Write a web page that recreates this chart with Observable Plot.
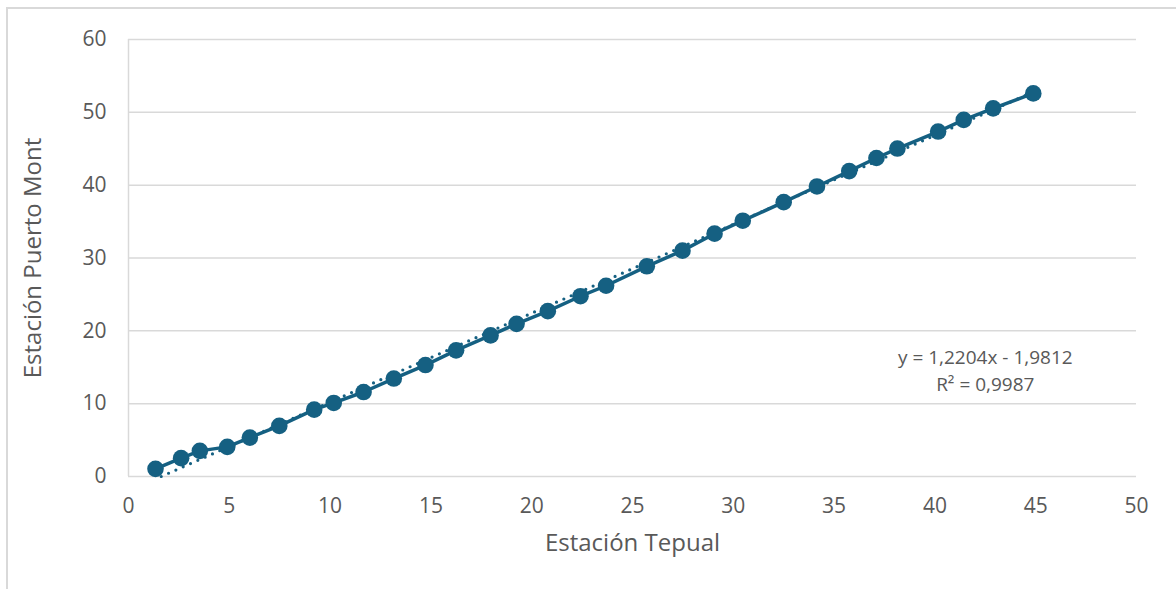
<!DOCTYPE html>
<html>
<head>
<meta charset="utf-8">
<script src="https://cdn.jsdelivr.net/npm/d3@7"></script>
<script src="https://cdn.jsdelivr.net/npm/@observablehq/plot@0.6"></script>
<style>
  html, body { margin: 0; padding: 0; background: #fff; }
  #wrap { position: relative; width: 1176px; height: 589px; overflow: hidden; }
  #border { position: absolute; left: 6px; top: 7px; width: 1250px; height: 650px; border: 2px solid #d9d9d9; box-sizing: border-box; pointer-events: none; }
  #chart { position: absolute; left: 0; top: 0; }
</style>
</head>
<body>
<div id="wrap"><div id="chart"></div><div id="border"></div></div>
<script>
// Data
const tepual = [1.34, 2.61, 3.54, 4.90, 6.02, 7.48, 9.21, 10.18, 11.66, 13.16, 14.73, 16.25, 17.96, 19.25, 20.80, 22.42, 23.69, 25.71, 27.48, 29.07, 30.47, 32.50, 34.15, 35.75, 37.10, 38.14, 40.16, 41.43, 42.89, 44.88];
const puertoMont = [1.05, 2.52, 3.52, 4.07, 5.34, 6.95, 9.18, 10.10, 11.60, 13.45, 15.30, 17.32, 19.37, 20.96, 22.70, 24.75, 26.19, 28.86, 31.01, 33.34, 35.12, 37.67, 39.82, 41.93, 43.73, 45.03, 47.36, 48.96, 50.55, 52.60];
const xTicks = [0, 5, 10, 15, 20, 25, 30, 35, 40, 45, 50];
const yTicks = [0, 10, 20, 30, 40, 50, 60];
const trendSlope = 1.2204;
const trendIntercept = -1.9812;
const trendLabel = ["y = 1,2204x - 1,9812", "R² = 0,9987"];
const xTitle = "Estación Tepual";
const yTitle = "Estación Puerto Mont";

const color = "#156082";
const textColor = "#595959";
const font = "'Open Sans', 'Liberation Sans', sans-serif";

const pts = tepual.map((x, i) => ({x, y: puertoMont[i]}));
const xMin = d3.min(tepual), xMax = d3.max(tepual);
const xStart = Math.max(xMin, -trendIntercept / trendSlope);
const trend = [xStart, xMax].map(x => ({x, y: trendSlope * x + trendIntercept}));

const chart = Plot.plot({
  width: 1176,
  height: 589,
  marginTop: 39,
  marginBottom: 113,
  marginLeft: 128,
  marginRight: 40,
  style: {fontFamily: font, color: textColor, background: "transparent"},
  x: {domain: [0, 50]},
  y: {domain: [0, 60]},
  marks: [
    Plot.gridY(yTicks.filter(d => d > 0), {stroke: "#d9d9d9", strokeOpacity: 1, strokeWidth: 1.5}),
    Plot.ruleX([0], {stroke: "#d9d9d9", strokeWidth: 1.5}),
    Plot.ruleY([0], {stroke: "#d9d9d9", strokeWidth: 1.5}),
    Plot.axisX(xTicks, {tickSize: 0, tickPadding: 22, label: null, fontSize: 21, fill: textColor}),
    Plot.axisY(yTicks, {tickSize: 0, tickPadding: 22, label: null, fontSize: 21, fill: textColor}),
    Plot.line(trend, {x: "x", y: "y", stroke: color, strokeWidth: 3.2, strokeDasharray: "0,8", strokeLinecap: "round"}),
    Plot.line(pts, {x: "x", y: "y", stroke: color, strokeWidth: 3.5}),
    Plot.dot(pts, {x: "x", y: "y", r: 8.3, fill: color, stroke: "none"}),
    Plot.text([trendLabel.join("\n")], {x: 42.5, y: 14.82, text: d => d, fill: textColor, fontSize: 19, lineHeight: 1.42, textAnchor: "middle"}),
    Plot.text([xTitle], {frameAnchor: "bottom", dy: 74, fill: textColor, fontSize: 24}),
    Plot.text([yTitle], {frameAnchor: "left", dx: -95, rotate: -90, textAnchor: "middle", fill: textColor, fontSize: 24})
  ]
});
document.getElementById("chart").appendChild(chart);
</script>
</body>
</html>
